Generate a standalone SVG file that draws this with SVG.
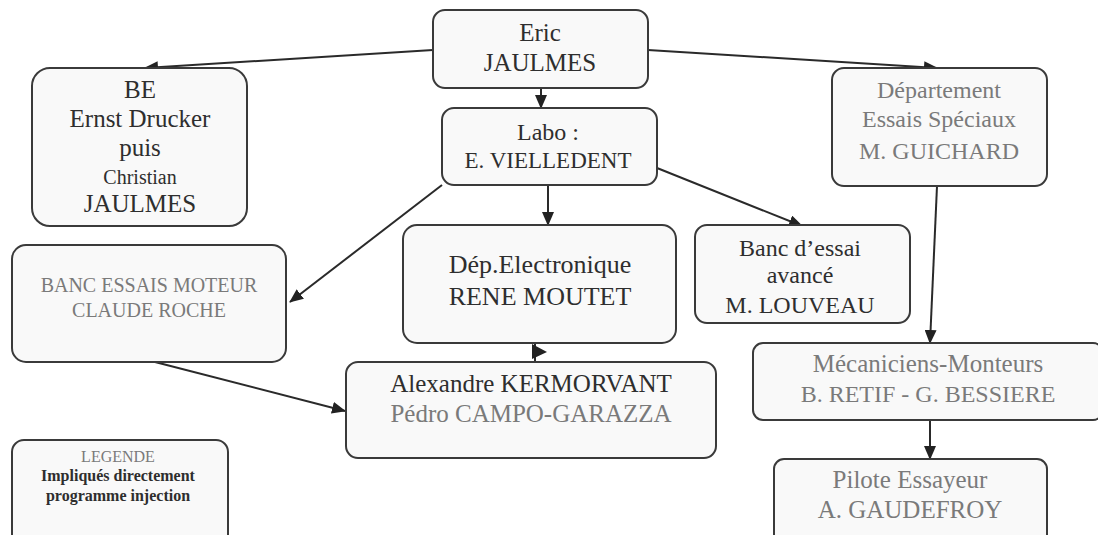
<svg xmlns="http://www.w3.org/2000/svg" width="1098" height="535" viewBox="0 0 1098 535">
<style>
.box{fill:#f9f9f9;stroke:#3a3a3a;stroke-width:2}
.t{font-family:'Liberation Serif','DejaVu Serif',serif;text-anchor:middle;fill:#2e2e2e}
.g{fill:#7a7a7a}
.c{fill:none;stroke:#2a2a2a;stroke-width:2}
</style>
<defs>
<marker id="ah" viewBox="0 0 14 12" refX="13" refY="6" markerWidth="14" markerHeight="12" markerUnits="userSpaceOnUse" orient="auto">
<path d="M0,0 L14,6 L0,12 z" fill="#222"/>
</marker>
</defs>
<rect width="1098" height="535" fill="#fff"/>
<g id="connectors">
<path class="c" d="M433,50 L145,68" marker-end="url(#ah)"/>
<path class="c" d="M648,50 L937,68" marker-end="url(#ah)"/>
<path class="c" d="M541,88 L541,108" marker-end="url(#ah)"/>
<path class="c" d="M548,185 L548,225" marker-end="url(#ah)"/>
<path class="c" d="M442,185 L290,302" marker-end="url(#ah)"/>
<path class="c" d="M657,168 L802,226" marker-end="url(#ah)"/>
<path class="c" d="M937,186 L930,343" marker-end="url(#ah)"/>
<path class="c" d="M930,420 L930,459" marker-end="url(#ah)"/>
<path class="c" d="M155,362 L345,411" marker-end="url(#ah)"/>
<path class="c" d="M535,343 L535,361"/>
<polygon points="532,344 547,352 532,359" fill="#222"/>
</g>
<g id="eric">
<rect class="box" x="433" y="10" width="215" height="78" rx="12"/>
<text class="t" x="540" y="41" font-size="25">Eric</text>
<text class="t" x="540" y="71" font-size="25">JAULMES</text>
</g>
<g id="be">
<rect class="box" x="32" y="68" width="215" height="158" rx="18"/>
<text class="t" x="140" y="98" font-size="25">BE</text>
<text class="t" x="140" y="127" font-size="25">Ernst Drucker</text>
<text class="t" x="140" y="156" font-size="25">puis</text>
<text class="t" x="140" y="184" font-size="20">Christian</text>
<text class="t" x="140" y="212" font-size="25">JAULMES</text>
</g>
<g id="labo">
<rect class="box" x="442" y="108" width="215" height="77" rx="12"/>
<text class="t" x="548" y="140" font-size="24">Labo :</text>
<text class="t" x="548" y="168" font-size="23">E. VIELLEDENT</text>
</g>
<g id="dept">
<rect class="box" x="832" y="68" width="215" height="118" rx="12"/>
<text class="t g" x="939" y="98" font-size="24">Département</text>
<text class="t g" x="939" y="127" font-size="24">Essais Spéciaux</text>
<text class="t g" x="939" y="159" font-size="24">M. GUICHARD</text>
</g>
<g id="banc-moteur">
<rect class="box" x="12" y="245" width="274" height="117" rx="14"/>
<text class="t g" x="149" y="292" font-size="20">BANC ESSAIS MOTEUR</text>
<text class="t g" x="149" y="317" font-size="20">CLAUDE ROCHE</text>
</g>
<g id="dep-electronique">
<rect class="box" x="403" y="225" width="273" height="118" rx="14"/>
<text class="t" x="540" y="273" font-size="26">Dép.Electronique</text>
<text class="t" x="540" y="305" font-size="26">RENE MOUTET</text>
</g>
<g id="banc-avance">
<rect class="box" x="695" y="225" width="215" height="98" rx="12"/>
<text class="t" x="800" y="256" font-size="24">Banc d’essai</text>
<text class="t" x="800" y="283" font-size="24">avancé</text>
<text class="t" x="800" y="313" font-size="24">M. LOUVEAU</text>
</g>
<g id="alexandre">
<rect class="box" x="346" y="362" width="370" height="96" rx="12"/>
<text class="t" x="531" y="392" font-size="25">Alexandre KERMORVANT</text>
<text class="t g" x="531" y="422" font-size="25">Pédro CAMPO-GARAZZA</text>
</g>
<g id="mecaniciens">
<rect class="box" x="753" y="343" width="350" height="77" rx="10"/>
<text class="t g" x="928" y="372" font-size="25">Mécaniciens-Monteurs</text>
<text class="t g" x="928" y="402" font-size="24">B. RETIF - G. BESSIERE</text>
</g>
<g id="pilote">
<rect class="box" x="774" y="459" width="273" height="90" rx="10"/>
<text class="t g" x="910" y="488" font-size="25">Pilote Essayeur</text>
<text class="t g" x="910" y="518" font-size="25">A. GAUDEFROY</text>
</g>
<g id="legende">
<rect class="box" x="12" y="440" width="216" height="110" rx="12"/>
<text class="t g" x="118" y="462" font-size="16">LEGENDE</text>
<text class="t" x="118" y="481" font-size="16" font-weight="bold">Impliqués directement</text>
<text class="t" x="118" y="501" font-size="16" font-weight="bold">programme injection</text>
</g>
</svg>
